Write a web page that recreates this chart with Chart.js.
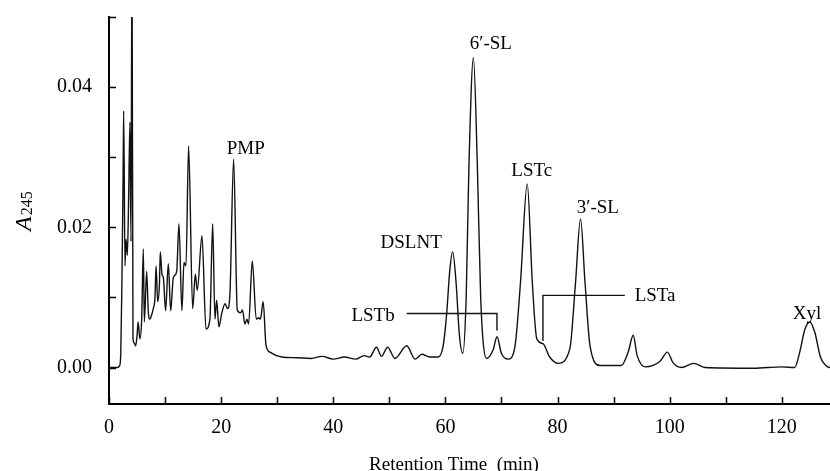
<!DOCTYPE html>
<html>
<head>
<meta charset="utf-8">
<script src="https://cdn.jsdelivr.net/npm/chart.js@4.4.1/dist/chart.umd.min.js"></script>
<style>
    html, body { margin: 0; padding: 0; background: #fff; }
    canvas { display: block; }
</style>
</head>
<body>
<canvas id="chartCromatograma" width="830" height="471"></canvas>
<script>
// retention time (min) and absorbance
const tiempos = [
    0, 1.5, 1.9, 2.1, 2.3, 2.5, 2.62, 2.85, 3.03, 3.27,
    3.5, 3.74, 3.92, 4.1, 4.28, 4.5, 4.75, 5.0, 5.2, 5.5,
    5.83, 6.12, 6.3, 6.72, 7.0, 7.3, 7.6, 7.9, 8.2, 8.4,
    8.68, 9.0, 9.15, 9.45, 9.7, 10.1, 10.58, 11.0, 11.47, 12.07,
    12.48, 13.0, 13.37, 13.73, 14.2, 14.92, 15.4, 15.75, 16.58, 17.3,
    18.0, 18.49, 18.9, 19.2, 19.6, 20.1, 20.7, 21.16, 21.58, 22.23,
    22.88, 23.47, 23.8, 24.25, 24.6, 24.9, 25.56, 26.27, 26.7, 27.0,
    27.5, 28.0, 28.7, 30.8, 33.5, 36, 38, 40, 42, 44,
    45.5, 46.5, 47.7, 48.6, 49.7, 51.0, 53.1, 54.6, 55.8, 57.2,
    58.7, 59.6, 60.2, 60.8, 61.3, 61.9, 62.5, 63.1, 63.7, 64.2,
    65.0, 65.7, 66.3, 67.35, 68.5, 69.2, 70.0, 71.2, 72.4, 73.4,
    74.6, 75.5, 76.3, 77.4, 78.6, 80.1, 82.2, 83.2, 84.1, 84.9,
    85.8, 87.6, 91.4, 92.6, 93.5, 94.2, 95.7, 98.3, 99.6, 100.6,
    102.1, 104.3, 106.3, 115, 120, 122.3, 123.2, 124.1, 125.0, 125.9,
    126.9, 128.2, 128.8
];
const absorbancia = [
    0, 0, 0.0003, 0.002, 0.012, 0.026, 0.0366, 0.0145, 0.0183, 0.016,
    0.024, 0.035, 0.018, 0.06, 0.0041, 0.0035, 0.0031, 0.0045, 0.0065, 0.0041,
    0.0069, 0.0169, 0.0065, 0.0137, 0.0081, 0.0069, 0.0075, 0.0084, 0.0100, 0.0145,
    0.0094, 0.0120, 0.0165, 0.0133, 0.0128, 0.0081, 0.0148, 0.0081, 0.0128, 0.0137,
    0.0205, 0.0081, 0.0150, 0.0145, 0.0316, 0.0084, 0.0133, 0.0110, 0.0188, 0.0055,
    0.0069, 0.0205, 0.0069, 0.0096, 0.0058, 0.0077, 0.0091, 0.0084, 0.0107, 0.0297,
    0.0082, 0.0078, 0.0082, 0.0062, 0.0069, 0.0062, 0.0152, 0.0069, 0.0071, 0.0069,
    0.0094, 0.0032, 0.0022, 0.0015, 0.0014, 0.0013, 0.0016, 0.0012, 0.0015, 0.0012,
    0.0017, 0.0015, 0.0029, 0.0016, 0.0029, 0.0013, 0.0031, 0.0012, 0.0019, 0.0015,
    0.0015, 0.0031, 0.0074, 0.014, 0.0165, 0.0122, 0.0046, 0.0020, 0.0098, 0.0288,
    0.0442, 0.0288, 0.0098, 0.0013, 0.0025, 0.0044, 0.002, 0.0012, 0.0030, 0.0122,
    0.0262, 0.0122, 0.0041, 0.0034, 0.0015, 0.0006, 0.0027, 0.012, 0.0212, 0.0122,
    0.0031, 0.0003, 0.0003, 0.0022, 0.0046, 0.0017, 0.0001, 0.0009, 0.0022, 0.0007,
    0.0, 0.0006, 0.0, -0.0001, 0.0001, 0.0, 0.0022, 0.0054, 0.0065, 0.0050,
    0.0015, 0.0001, 0.0
];

const xTicks = [0, 10, 20, 30, 40, 50, 60, 70, 80, 90, 100, 110, 120];
const xTickLabels = ["0", "", "20", "", "40", "", "60", "", "80", "", "100", "", "120"];
const yTicks = [0, 0.01, 0.02, 0.03, 0.04, 0.05];
const yTickLabels = ["0.00", "", "0.02", "", "0.04", ""];

// peak names and where they sit (min, absorbance)
const nombresPicos = ["PMP", "6′-SL", "LSTc", "DSLNT", "LSTb", "3′-SL", "LSTa", "Xyl"];
const picosX = [24.4, 68.1, 75.4, 53.9, 47.1, 87.2, 97.4, 124.5];
const picosY = [0.0312, 0.0461, 0.0280, 0.0178, 0.0073, 0.0228, 0.0102, 0.0077];

// leader lines for LSTb and LSTa
const lstbX = [53.1, 69.2, 69.2];
const lstbY = [0.0077, 0.0077, 0.0053];
const lstaX = [77.4, 77.4, 92.0];
const lstaY = [0.0038, 0.0103, 0.0103];

const FUENTE = '"Liberation Serif", "Times New Roman", serif';

function puntos(xs, ys) {
    return xs.map((v, i) => ({ x: v, y: ys[i] }));
}

const extras = {
    id: "extras",
    afterDraw(chart) {
        const { ctx, scales: { x, y } } = chart;
        ctx.save();
        ctx.strokeStyle = "#000";
        ctx.lineWidth = 1.5;
        xTicks.forEach(v => {
            const px = Math.round(x.getPixelForValue(v)) + 0.5;
            ctx.beginPath();
            ctx.moveTo(px, y.bottom);
            ctx.lineTo(px, y.bottom - 7);
            ctx.stroke();
        });
        yTicks.forEach(v => {
            const py = Math.round(y.getPixelForValue(v)) + 0.5;
            ctx.beginPath();
            ctx.moveTo(x.left, py);
            ctx.lineTo(x.left + 7, py);
            ctx.stroke();
        });

        ctx.fillStyle = "#000";
        ctx.font = "19px " + FUENTE;
        ctx.textAlign = "center";
        ctx.textBaseline = "middle";
        nombresPicos.forEach((n, i) => {
            ctx.fillText(n, x.getPixelForValue(picosX[i]), y.getPixelForValue(picosY[i]));
        });

        ctx.textBaseline = "alphabetic";
        ctx.fillText("Retention Time  (min)", 454, 470);

        // A245 rotated
        ctx.translate(31, 231);
        ctx.rotate(-Math.PI / 2);
        ctx.textAlign = "left";
        ctx.font = "italic 24px " + FUENTE;
        ctx.fillText("A", 0, 0);
        const w = ctx.measureText("A").width;
        ctx.font = "16px " + FUENTE;
        ctx.fillText("245", w + 1, 1);
        ctx.restore();
    }
};

function sinRelleno(s) {
    s.paddingTop = 0;
    s.paddingBottom = 0;
    s.paddingLeft = 0;
    s.paddingRight = 0;
}

const ctx = document.getElementById("chartCromatograma");
new Chart(ctx, {
    type: "line",
    data: {
        datasets: [
            {
                label: "A245",
                data: puntos(tiempos, absorbancia),
                borderColor: "#111",
                borderWidth: 1.4,
                pointRadius: 0,
                cubicInterpolationMode: "monotone",
                fill: false
            },
            {
                label: "LSTb",
                data: puntos(lstbX, lstbY),
                borderColor: "#111",
                borderWidth: 1.4,
                pointRadius: 0,
                tension: 0,
                fill: false
            },
            {
                label: "LSTa",
                data: puntos(lstaX, lstaY),
                borderColor: "#111",
                borderWidth: 1.4,
                pointRadius: 0,
                tension: 0,
                fill: false
            }
        ]
    },
    options: {
        responsive: false,
        animation: false,
        devicePixelRatio: 1,
        layout: { padding: { top: 17, right: 0, left: 0, bottom: 0 } },
        plugins: {
            legend: { display: false },
            tooltip: { enabled: false }
        },
        scales: {
            x: {
                type: "linear",
                min: 0,
                max: 128.6,
                grid: { display: false, drawTicks: false },
                border: { display: true, color: "#000", width: 2 },
                afterBuildTicks: s => { s.ticks = xTicks.map(v => ({ value: v })); },
                afterFit: s => { s.height = 67; sinRelleno(s); },
                ticks: {
                    padding: 12,
                    autoSkip: false,
                    maxRotation: 0,
                    color: "#000",
                    font: { family: FUENTE, size: 20 },
                    callback: (v, i) => xTickLabels[i]
                }
            },
            y: {
                min: -0.0052,
                max: 0.05,
                grid: { display: false, drawTicks: false },
                border: { display: true, color: "#000", width: 2 },
                afterBuildTicks: s => { s.ticks = yTicks.map(v => ({ value: v })); },
                afterFit: s => { s.width = 109; sinRelleno(s); },
                ticks: {
                    padding: 17,
                    autoSkip: false,
                    color: "#000",
                    font: { family: FUENTE, size: 20 },
                    callback: (v, i) => yTickLabels[i]
                }
            }
        }
    },
    plugins: [extras]
});
</script>
</body>
</html>
